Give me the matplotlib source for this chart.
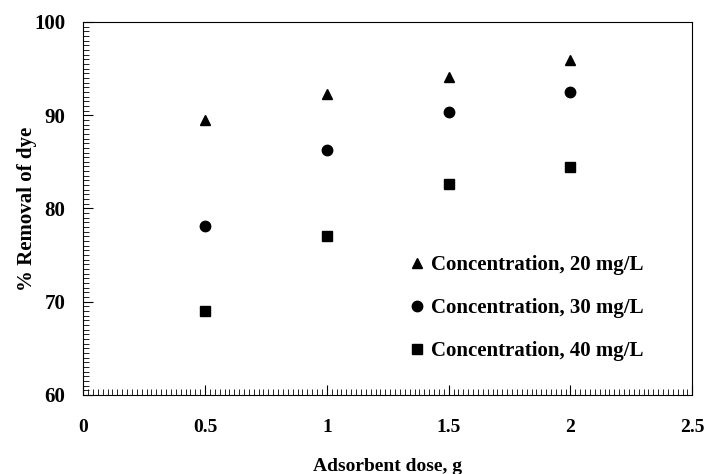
import matplotlib
matplotlib.use("Agg")
import matplotlib.pyplot as plt
from matplotlib.ticker import MultipleLocator, FuncFormatter

plt.rcParams['font.family'] = ['Liberation Serif', 'DejaVu Serif']
plt.rcParams['font.weight'] = 'bold'

dose = [0.5, 1.0, 1.5, 2.0]
conc20 = [89.5, 92.3, 94.1, 95.9]
conc30 = [78.1, 86.3, 90.3, 92.5]
conc40 = [69.0, 77.1, 82.6, 84.4]
labels = ["Concentration, 20 mg/L", "Concentration, 30 mg/L", "Concentration, 40 mg/L"]

fig = plt.figure(figsize=(7.05, 4.74), dpi=100)
ax = fig.add_axes([0.118, 0.1667, 0.864, 0.787])

ax.plot(dose, conc20, linestyle='none', marker='^', color='black', ms=7.5, label=labels[0])
ax.plot(dose, conc30, linestyle='none', marker='o', color='black', ms=7.5, label=labels[1])
ax.plot(dose, conc40, linestyle='none', marker='s', color='black', ms=7, label=labels[2])

ax.set_xlim(0, 2.5)
ax.set_ylim(60, 100)
ax.xaxis.set_major_locator(MultipleLocator(0.5))
ax.xaxis.set_minor_locator(MultipleLocator(0.02))
ax.yaxis.set_major_locator(MultipleLocator(10))
ax.yaxis.set_minor_locator(MultipleLocator(0.5))
ax.xaxis.set_major_formatter(FuncFormatter(lambda v, p: '%g' % v))

ax.tick_params(axis='both', which='major', direction='in', length=7, width=0.8,
               top=False, right=False)
ax.tick_params(axis='both', which='minor', direction='in', length=4, width=0.6,
               top=False, right=False)
ax.tick_params(axis='x', which='major', pad=17, labelsize=14)
ax.tick_params(axis='y', which='major', pad=13, labelsize=15)
for lab in ax.get_xticklabels() + ax.get_yticklabels():
    lab.set_fontweight('bold')

for s in ax.spines.values():
    s.set_linewidth(0.8)

ax.set_xlabel("Adsorbent dose, g", fontsize=14, fontweight='bold', labelpad=16)
ax.set_ylabel("% Removal of dye", fontsize=15, fontweight='bold', labelpad=-2)

leg = ax.legend(loc='upper left', bbox_to_anchor=(0.507, 0.425), frameon=False,
                handlelength=0.6, handletextpad=0.35, labelspacing=1.1,
                prop={'size': 15, 'weight': 'bold', 'family': 'Liberation Serif'})

fig.savefig("out.png", dpi=100)
